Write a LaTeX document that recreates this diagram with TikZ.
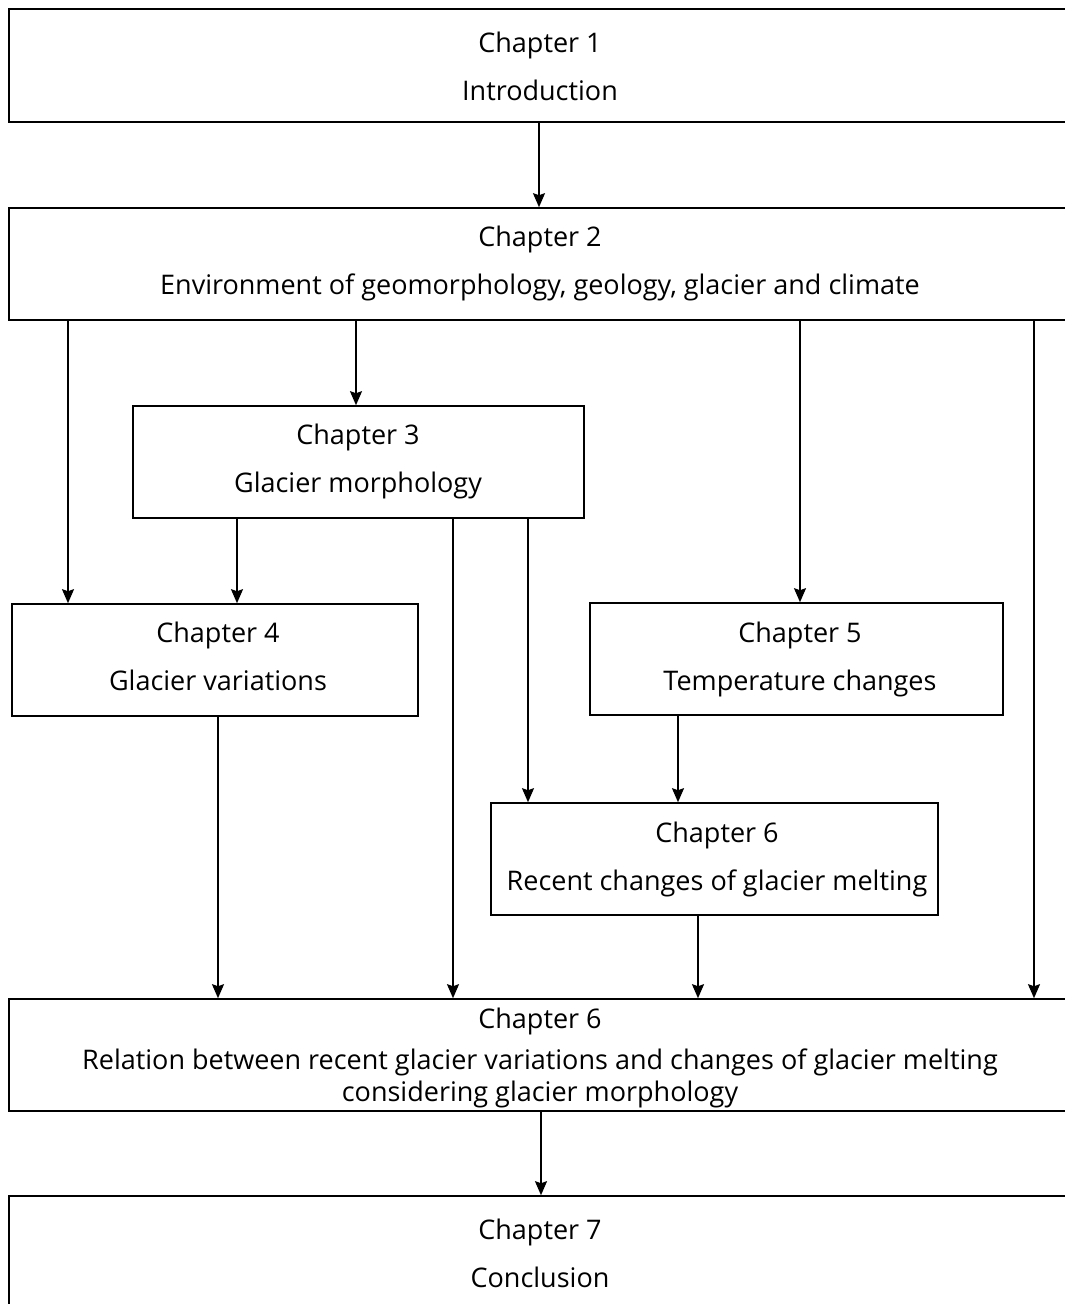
\documentclass[tikz,border=0pt]{standalone}
\usepackage{fontspec}
\setmainfont{Open Sans}
\usetikzlibrary{arrows.meta}
\begin{document}
\begin{tikzpicture}[x=1pt,y=-1pt,
  box/.style={draw, line width=1.6pt, inner sep=0pt, minimum height=112pt},
  txt/.style={inner sep=0pt, align=center, font=\fontsize{27}{48}\selectfont},
  arr/.style={line width=1.6pt, -{Stealth[length=14pt,width=12pt,inset=2pt]}}]
\clip (0,0) rectangle (1065,1304);
\fill[white] (0,0) rectangle (1065,1304);
% boxes
\node[box, minimum width=1062pt, minimum height=113pt] (c1) at (540,65.5) {};
\node[box, minimum width=1062pt] (c2) at (540,264) {};
\node[box, minimum width=451pt] (c3) at (358.5,462) {};
\node[box, minimum width=406pt] (c4) at (215,660) {};
\node[box, minimum width=413pt] (c5) at (796.5,659) {};
\node[box, minimum width=447pt] (c6a) at (714.5,859) {};
\node[box, minimum width=1062pt] (c6b) at (540,1055) {};
\node[box, minimum width=1062pt, minimum height=113pt] (c7) at (540,1252.5) {};
% texts
\node[txt] (t1) at (540,66.5) {Chapter 1\\Introduction};
\node[txt] (t2) at (540,263) {Chapter 2\\Environment of geomorphology, geology, glacier and climate};
\node[txt] (t3) at (358,461) {Chapter 3\\Glacier morphology};
\node[txt] (t4) at (218,656) {Chapter 4\\Glacier variations};
\node[txt] (t5) at (800,659) {Chapter 5\\Temperature changes};
\node[txt] (t6a) at (717,859) {Chapter 6\\Recent changes of glacier melting};
\node[txt, font=\fontsize{27}{32}\selectfont] (t6b) at (540,1058) {Chapter 6\\[9pt]Relation between recent glacier variations and changes of glacier melting\\considering glacier morphology};
\node[txt] (t7) at (540,1253.5) {Chapter 7\\Conclusion};
% connectors
\draw[arr] (c1.south -| 539,0) -- (c2.north -| 539,0);
\draw[arr] (c2.south -| 356,0) -- (c3.north -| 356,0);
\draw[arr] (c2.south -| 68,0) -- (c4.north -| 68,0);
\draw[arr] (c2.south -| 800,0) -- (c5.north -| 800,0);
\draw[arr] (c2.south -| 1034,0) -- (c6b.north -| 1034,0);
\draw[arr] (c3.south -| 237,0) -- (c4.north -| 237,0);
\draw[arr] (c3.south -| 453,0) -- (c6b.north -| 453,0);
\draw[arr] (c3.south -| 528,0) -- (c6a.north -| 528,0);
\draw[arr] (c5.south -| 678,0) -- (c6a.north -| 678,0);
\draw[arr] (c4.south -| 218,0) -- (c6b.north -| 218,0);
\draw[arr] (c6a.south -| 698,0) -- (c6b.north -| 698,0);
\draw[arr] (c6b.south -| 541,0) -- (c7.north -| 541,0);
\end{tikzpicture}
\end{document}
